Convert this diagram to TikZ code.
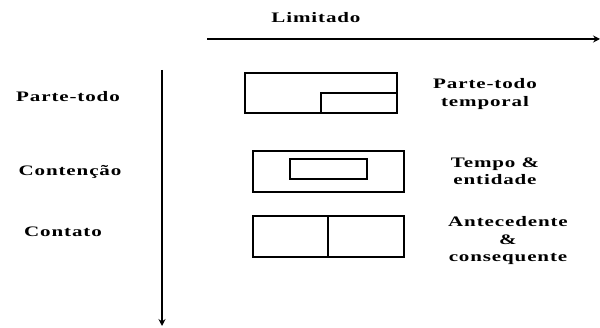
\documentclass[tikz,border=0pt]{standalone}
\usepackage{fontspec}
\setmainfont{Liberation Serif}[FakeStretch=1.45,LetterSpace=6]
\usetikzlibrary{arrows.meta}
\begin{document}
\begin{tikzpicture}[x=1pt,y=-1pt,
  lbl/.style={font=\bfseries\fontsize{14.5}{17.5}\selectfont,align=center,inner sep=0pt},
  box/.style={draw,line width=1.3pt},
  axis/.style={line width=1.3pt,-{Stealth[length=7pt,width=7pt,inset=2.5pt]}}]
\useasboundingbox (0,0) rectangle (600,328);
\node[lbl] (lim) at (316,18) {Limitado};
\coordinate (hs) at (207,39);
\coordinate (he) at (600,39);
\draw[axis] (hs) -- (he);
\coordinate (vs) at (162,70);
\coordinate (ve) at (162,326);
\draw[axis] (vs) -- (ve);
\node[lbl] (pt) at (68,97) {Parte-todo};
\node[lbl] (ct) at (70,172) {Contenção};
\node[lbl] (co) at (63,232) {Contato};
\draw[box] (245,73) rectangle (397,113);
\draw[box] (321,93) rectangle (397,113);
\draw[box] (253,151) rectangle (404,192);
\draw[box] (290,159) rectangle (367,179);
\draw[box] (253,216) rectangle (404,257);
\draw[box] (328,216) -- (328,257);
\node[lbl] (r1) at (485,94) {Parte-todo\\temporal};
\node[lbl] (r2) at (495,171.5) {Tempo \&\\entidade};
\node[lbl] (r3) at (508,241) {Antecedente\\\&\\consequente};
\end{tikzpicture}
\end{document}
